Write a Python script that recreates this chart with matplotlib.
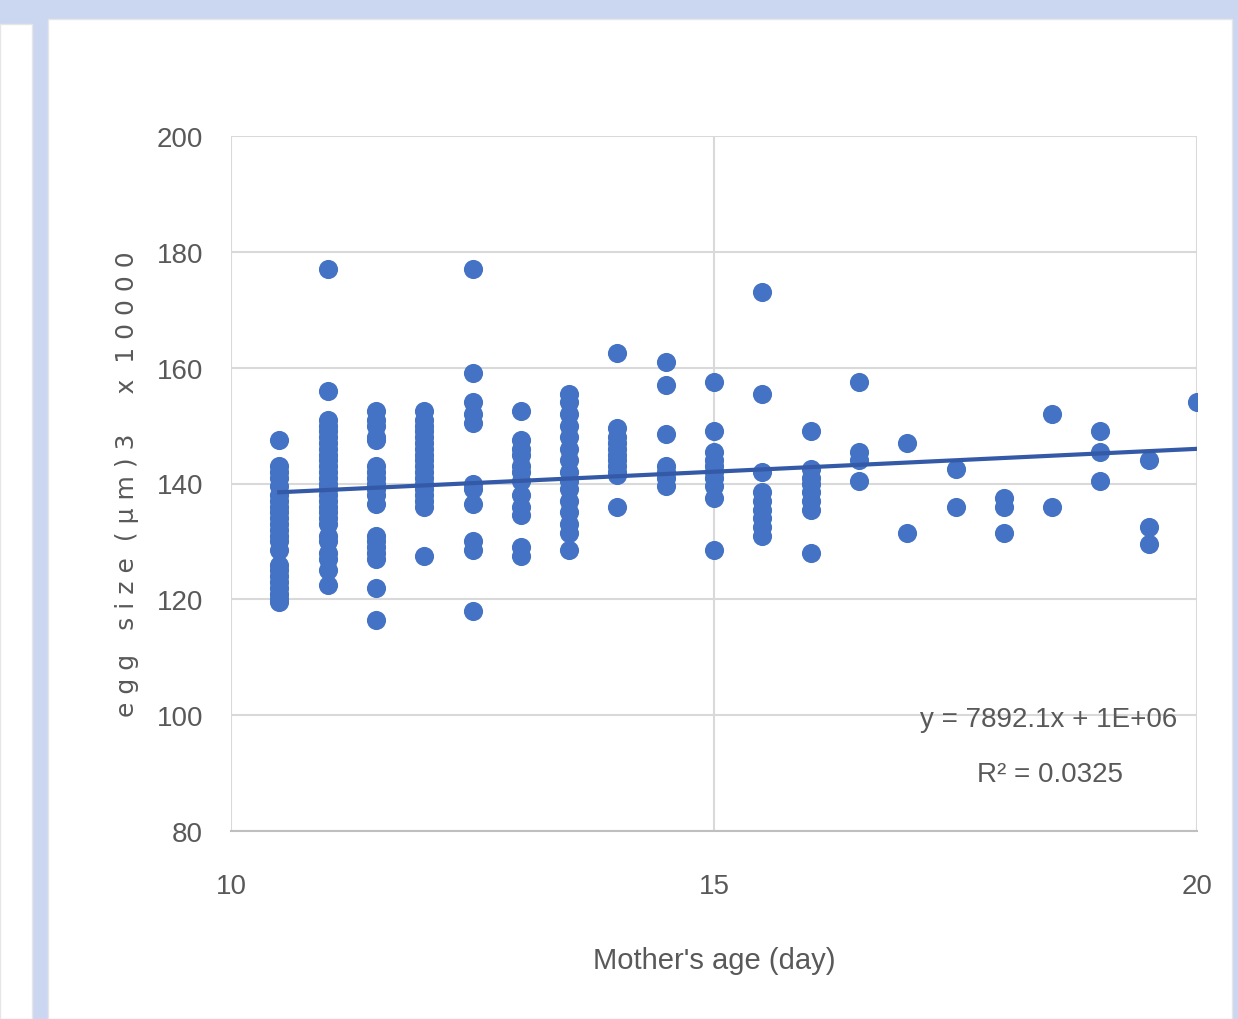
import matplotlib.pyplot as plt
import matplotlib.patches as mpatches
import numpy as np

# data (egg size in units of 10000 um^3)
ages = [10.5, 11, 11.5, 12, 12.5, 13, 13.5, 14, 14.5, 15,
        15.5, 16, 16.5, 17, 17.5, 18, 18.5, 19, 19.5, 20]
sizes = [
    [147.5, 143, 142, 141, 139.5, 138, 137, 136, 135, 134, 133, 132, 131, 130,
     128.5, 126, 125, 124, 123, 122, 121, 120, 119.5],
    [177, 156, 151, 150, 149, 148, 147, 146, 145, 144, 143, 142, 141, 140, 139,
     138, 137, 136, 135, 134, 133, 131, 130, 128, 127, 125, 122.5],
    [152.5, 151, 150, 148, 147.5, 143, 142, 141, 140, 139, 138, 136.5, 131, 130,
     129, 128, 127, 122, 116.5],
    [152.5, 151, 150, 149, 148, 147, 146, 145, 144, 143, 142, 141, 140, 139,
     138, 137, 136, 127.5],
    [177, 159, 154, 152, 150.5, 140, 139, 136.5, 130, 128.5, 118],
    [152.5, 147.5, 146, 145, 143, 142, 140.5, 138, 136, 134.5, 129, 127.5],
    [155.5, 154, 152, 150, 148, 146, 144, 142, 140.5, 139, 137, 135, 133,
     131.5, 128.5],
    [162.5, 149.5, 148, 147, 146, 145, 144, 143, 142, 141.5, 136],
    [161, 157, 148.5, 143, 142, 141, 139.5],
    [157.5, 149, 145.5, 144, 143, 142, 141, 139.5, 137.5, 128.5],
    [173, 155.5, 142, 138.5, 137, 135.5, 134, 132.5, 131],
    [149, 142.5, 141, 140, 138.5, 137, 135.5, 128],
    [157.5, 145.5, 144, 140.5],
    [147, 131.5],
    [142.5, 136],
    [137.5, 136, 131.5],
    [152, 136],
    [149, 145.5, 140.5],
    [144, 132.5, 129.5],
    [154],
]
# Excel trendline: y = 7892.1x + 1E+06 (shown in /10000 units)
trend_slope = 0.78921
trend_intercept = 130.2
eq_text = "y = 7892.1x + 1E+06"
r2_text = "R² = 0.0325"

x_pts = np.concatenate([[a] * len(s) for a, s in zip(ages, sizes)])
y_pts = np.concatenate(sizes)

font = ['Liberation Sans', 'DejaVu Sans']
grey = '#595959'
blue = '#4472C4'

fig = plt.figure(figsize=(12.38, 10.20), dpi=100)
fig.patch.set_facecolor('#cbd6f1')
# white panels on the light blue page
fig.patches.append(mpatches.Rectangle((48 / 1238, 0), 1184 / 1238, 1 - 20 / 1020,
                                      transform=fig.transFigure, facecolor='white',
                                      edgecolor='#e6e6e6', zorder=-5))
fig.patches.append(mpatches.Rectangle((0, 0), 32 / 1238, 1 - 25 / 1020,
                                      transform=fig.transFigure, facecolor='white',
                                      edgecolor='#e6e6e6', zorder=-5))

ax = fig.add_axes([231 / 1238, 1 - 832 / 1020, 966 / 1238, 695 / 1020])
ax.set_facecolor('white')

ax.scatter(x_pts, y_pts, s=190, color=blue, zorder=3, linewidths=0)
tx = np.array([min(ages), max(ages)])
ax.plot(tx, trend_slope * tx + trend_intercept, color='#3459a6', lw=3, zorder=4)

ax.set_xlim(10, 20)
ax.set_ylim(80, 200)
ax.set_xticks([10, 15, 20])
ax.set_yticks(np.arange(80, 201, 20))
ax.grid(True, color='#d9d9d9', lw=1.5, zorder=0)
ax.set_axisbelow(True)
for side in ['top', 'right', 'left']:
    ax.spines[side].set_visible(False)
ax.spines['bottom'].set_color('#bfbfbf')
ax.spines['bottom'].set_linewidth(1.5)
ax.tick_params(length=0, labelsize=20, colors=grey)
ax.tick_params(axis='x', pad=30)
ax.tick_params(axis='y', pad=20)
for lab in ax.get_xticklabels() + ax.get_yticklabels():
    lab.set_family(font)

ax.set_xlabel("Mother's age (day)", fontsize=21, color=grey, family=font, labelpad=34)
ax.set_ylabel("e g g   s i z e  ( µ m ) 3     x  1 0 0 0 0", fontsize=18, color=grey,
              labelpad=13)

ax.text(0.846, 0.161, eq_text, transform=ax.transAxes, ha='center', va='center',
        fontsize=20, color=grey, family=font)
ax.text(0.848, 0.082, r2_text, transform=ax.transAxes, ha='center', va='center',
        fontsize=20, color=grey, family=font)

fig.savefig('out.png', dpi=100, facecolor=fig.get_facecolor())
